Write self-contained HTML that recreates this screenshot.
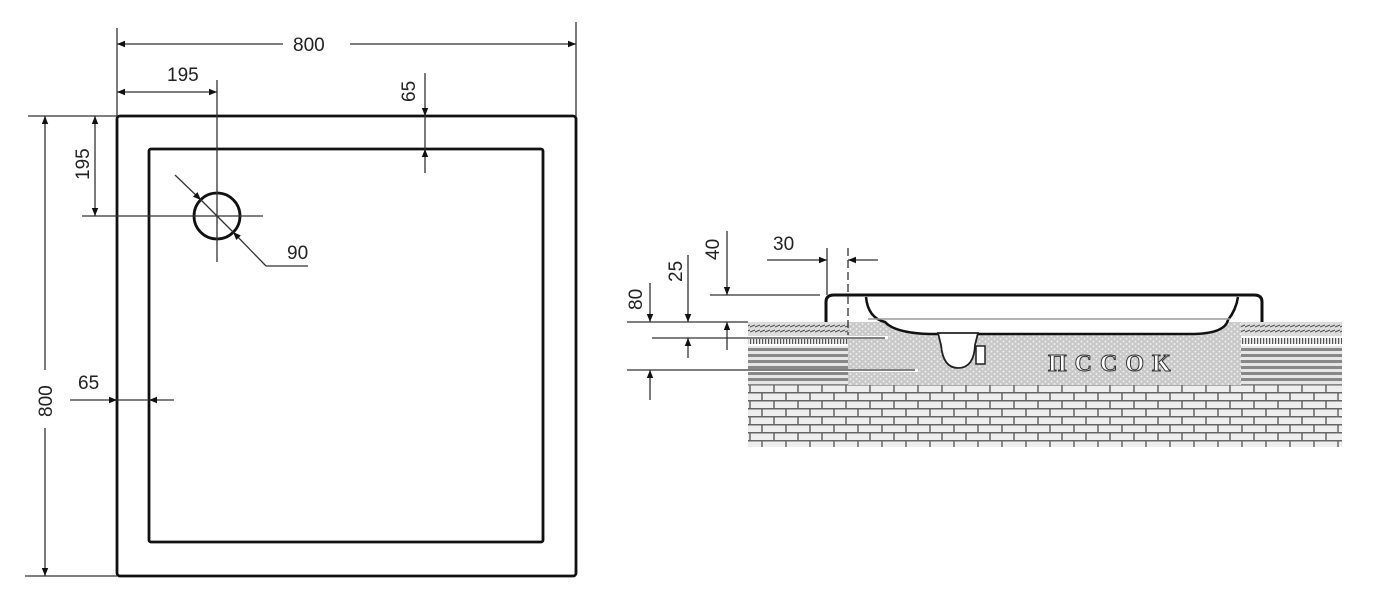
<!DOCTYPE html>
<html><head><meta charset="utf-8"><style>
html,body{margin:0;padding:0;background:#fff;width:1374px;height:600px;overflow:hidden}
svg{display:block}
text{font-family:"Liberation Sans",Arial,sans-serif;font-size:19px;fill:#222}
</style></head><body>
<svg width="1374" height="600" viewBox="0 0 1374 600" xmlns="http://www.w3.org/2000/svg">
<defs>
<marker id="a" viewBox="0 0 10 10" refX="10" refY="5" markerWidth="11" markerHeight="8" orient="auto-start-reverse" markerUnits="userSpaceOnUse"><path d="M0,1 L10,5 L0,9 z" fill="#111"/></marker>
<pattern id="sand" width="6" height="5" patternUnits="userSpaceOnUse"><rect width="6" height="5" fill="#c8c8c8"/><circle cx="1.5" cy="1.5" r="1" fill="#eee"/><circle cx="4.5" cy="4" r="1" fill="#eee"/></pattern>
<pattern id="hatch" width="5" height="14" patternUnits="userSpaceOnUse"><rect width="5" height="14" fill="#ddd"/><path d="M0,5 L5,3 M0,10 L5,8" stroke="#555" stroke-width="1.2"/></pattern>
<pattern id="stripes" width="10" height="6" patternUnits="userSpaceOnUse"><rect width="10" height="6" fill="#e6e6e6"/><rect y="0" width="10" height="3" fill="#888"/></pattern>
<pattern id="ticks" width="3" height="6" patternUnits="userSpaceOnUse"><rect width="3" height="6" fill="#eee"/><rect width="1.2" height="6" fill="#555"/></pattern>
<pattern id="brick" width="24" height="16" patternUnits="userSpaceOnUse"><rect width="24" height="16" fill="#eee"/><path d="M0,0.75 H24 M0,8.75 H24 M6,0 V8 M18,8 V16" stroke="#666" stroke-width="1.5"/></pattern>
</defs>

<!-- LEFT PLAN -->
<g fill="none" stroke="#111">
<rect x="117" y="116" width="459" height="460" rx="3" stroke-width="2.8"/>
<rect x="149" y="149" width="394" height="393" rx="2" stroke-width="2.8"/>
<circle cx="217" cy="216" r="23" stroke-width="2.8"/>
</g>
<g stroke="#333" stroke-width="1.3" fill="none">
<line x1="117" y1="28" x2="117" y2="116"/>
<line x1="576" y1="22" x2="576" y2="116"/>
<line x1="283" y1="44" x2="117" y2="44" marker-end="url(#a)"/>
<line x1="350" y1="44" x2="576" y2="44" marker-end="url(#a)"/>
<line x1="117" y1="92" x2="217" y2="92" marker-start="url(#a)" marker-end="url(#a)"/>
<line x1="217" y1="80" x2="217" y2="262"/>
<line x1="82" y1="216" x2="263" y2="216"/>
<line x1="425" y1="73" x2="425" y2="116" marker-end="url(#a)"/>
<line x1="425" y1="173" x2="425" y2="149" marker-end="url(#a)"/>
<line x1="425" y1="116" x2="425" y2="149"/>
<line x1="28" y1="116" x2="117" y2="116"/>
<line x1="25" y1="576" x2="117" y2="576"/>
<line x1="45" y1="370" x2="45" y2="116" marker-end="url(#a)"/>
<line x1="45" y1="428" x2="45" y2="576" marker-end="url(#a)"/>
<line x1="95" y1="116" x2="95" y2="216" marker-start="url(#a)" marker-end="url(#a)"/>
<line x1="70" y1="400" x2="117" y2="400" marker-end="url(#a)"/>
<line x1="174" y1="400" x2="149" y2="400" marker-end="url(#a)"/>
<line x1="117" y1="400" x2="149" y2="400"/>
<line x1="175" y1="175" x2="201" y2="200" marker-end="url(#a)"/>
<line x1="201" y1="200" x2="233" y2="232"/>
<line x1="266" y1="266" x2="233" y2="232" marker-end="url(#a)"/>
<line x1="266" y1="266" x2="308" y2="266"/>
</g>
<text x="293" y="51">800</text>
<text x="167" y="81">195</text>
<text x="287" y="259">90</text>
<text x="78" y="389">65</text>
<text transform="translate(415,102) rotate(-90)">65</text>
<text transform="translate(89,180) rotate(-90)">195</text>
<text transform="translate(52,417) rotate(-90)">800</text>

<!-- RIGHT SECTION -->
<rect x="748" y="385" width="594" height="62" fill="url(#brick)"/>
<rect x="848" y="322" width="393" height="63" fill="url(#sand)"/>
<rect x="748" y="322" width="100" height="14" fill="url(#hatch)"/>
<rect x="748" y="338" width="100" height="6" fill="url(#ticks)"/>
<rect x="748" y="346" width="100" height="39" fill="url(#stripes)"/>
<rect x="1241" y="322" width="101" height="14" fill="url(#hatch)"/>
<rect x="1241" y="338" width="101" height="6" fill="url(#ticks)"/>
<rect x="1241" y="346" width="101" height="39" fill="url(#stripes)"/>
<rect x="748" y="336" width="140" height="3" fill="#fff"/>
<rect x="748" y="369" width="170" height="3" fill="#fff"/>
<text x="1048" y="371" style="font-family:'Liberation Serif','DejaVu Serif',serif;font-size:24px;font-weight:bold;fill:#fff;stroke:#333;stroke-width:1;letter-spacing:8px">ПСCOK</text>
<path d="M826,322 V302 Q826,295 834,295 H1254 Q1262,295 1262,302 V322" fill="#fff" stroke="#111" stroke-width="3"/>
<path d="M866,297 Q868,318 885,322 Q895,333 930,334 H1195 Q1225,333 1228,320 Q1236,310 1238,297" fill="#fff" stroke="#111" stroke-width="2.5"/>
<line x1="868" y1="319" x2="1230" y2="319" stroke="#999" stroke-width="1.5"/>
<path d="M938,333 H978 L975,345 Q974,368 958,368 Q943,368 941,345 Z" fill="#fff" stroke="#222" stroke-width="1.8"/>
<rect x="976" y="346" width="9" height="18" fill="#fff" stroke="#222" stroke-width="1.5"/>
<g stroke="#333" stroke-width="1.3" fill="none">
<line x1="627" y1="322" x2="748" y2="322"/>
<line x1="652" y1="338" x2="885" y2="338"/>
<line x1="627" y1="370" x2="915" y2="370"/>
<line x1="710" y1="295" x2="820" y2="295"/>
<line x1="650" y1="283" x2="650" y2="322" marker-end="url(#a)"/>
<line x1="650" y1="400" x2="650" y2="370" marker-end="url(#a)"/>
<line x1="688" y1="255" x2="688" y2="322" marker-end="url(#a)"/>
<line x1="688" y1="358" x2="688" y2="338" marker-end="url(#a)"/>
<line x1="727" y1="231" x2="727" y2="295" marker-end="url(#a)"/>
<line x1="727" y1="350" x2="727" y2="322" marker-end="url(#a)"/>
<line x1="767" y1="260" x2="827" y2="260" marker-end="url(#a)"/>
<line x1="878" y1="260" x2="848" y2="260" marker-end="url(#a)"/>
<line x1="827" y1="248" x2="827" y2="295"/>
<line x1="848" y1="248" x2="848" y2="335" stroke-dasharray="8,4"/>
</g>
<text x="773" y="250">30</text>
<text transform="translate(719,260) rotate(-90)">40</text>
<text transform="translate(682,282) rotate(-90)">25</text>
<text transform="translate(642,310) rotate(-90)">80</text>
</svg>
</body></html>
